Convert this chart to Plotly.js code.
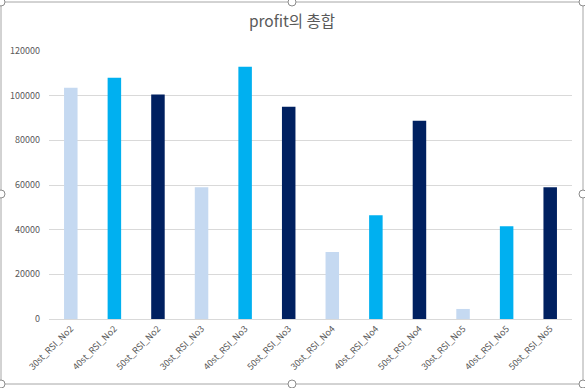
<!DOCTYPE html>
<html>
<head>
<meta charset="utf-8">
<script src="https://cdn.plot.ly/plotly-3.0.1.min.js"></script>
<style>html,body{margin:0;padding:0;background:#fff;}#chart{width:585px;height:388px;}</style>
</head>
<body>
<div id="chart"></div>
<script>
const categories = ["30st_RSI_No2","40st_RSI_No2","50st_RSI_No2","30st_RSI_No3","40st_RSI_No3","50st_RSI_No3","30st_RSI_No4","40st_RSI_No4","50st_RSI_No4","30st_RSI_No5","40st_RSI_No5","50st_RSI_No5"];
const profit = [103500, 108000, 100500, 59000, 113000, 95000, 30000, 46500, 88800, 4500, 41500, 59000];
const barColors = ["#C5D9F1","#00B0F0","#002060","#C5D9F1","#00B0F0","#002060","#C5D9F1","#00B0F0","#002060","#C5D9F1","#00B0F0","#002060"];
const yTicks = [0, 20000, 40000, 60000, 80000, 100000, 120000];
const titleText = "profit의 총합";

const W = 585, H = 388;
const M = {l: 49, r: 13, t: 51, b: 69};
const pw = W - M.l - M.r, ph = H - M.t - M.b;
function px(x){ return (x - M.l) / pw; }
function py(y){ return (H - M.b - y) / ph; }

const shapes = [{
  type: "rect", xref: "paper", yref: "paper",
  x0: px(1), x1: px(583), y0: py(384), y1: py(2),
  line: {color: "#A6A6A6", width: 1}, layer: "below"
}];
const handles = [[1,2],[292,2],[583,2],[1,194],[583,194],[1,384],[292,384],[583,384]];
handles.forEach(h => {
  shapes.push({
    type: "circle", xref: "paper", yref: "paper",
    x0: px(h[0]-4), x1: px(h[0]+4), y0: py(h[1]+4), y1: py(h[1]-4),
    line: {color: "#8C8C8C", width: 1}, fillcolor: "#FFFFFF"
  });
});

const font = "'Noto Sans CJK KR', 'Noto Sans', sans-serif";
Plotly.newPlot("chart", [{
  type: "bar",
  x: categories,
  y: profit,
  marker: {color: barColors},
  hoverinfo: "none"
}], {
  width: W, height: H,
  margin: M,
  paper_bgcolor: "#FFFFFF",
  plot_bgcolor: "#FFFFFF",
  bargap: 0.69,
  showlegend: false,
  title: {text: titleText, x: 292/W, xref: "container", xanchor: "center", y: 1 - 22/H, yanchor: "middle", yref: "container",
          font: {family: font, size: 15.5, color: "#595959"}},
  xaxis: {
    type: "category",
    tickangle: -45,
    tickfont: {family: font, size: 9, color: "#595959"},
    showgrid: false,
    showline: true, linecolor: "#D9D9D9", linewidth: 1,
    ticks: "", ticklen: 0
  },
  yaxis: {
    range: [0, 120000],
    tickvals: yTicks,
    ticktext: yTicks.map(String),
    tickfont: {family: font, size: 9, color: "#595959"},
    showgrid: true, gridcolor: "#D9D9D9", gridwidth: 1,
    zeroline: false, showline: false,
    ticks: "", ticklabelstandoff: 8
  },
  shapes: shapes
}, {staticPlot: true, displayModeBar: false});
</script>
</body>
</html>
